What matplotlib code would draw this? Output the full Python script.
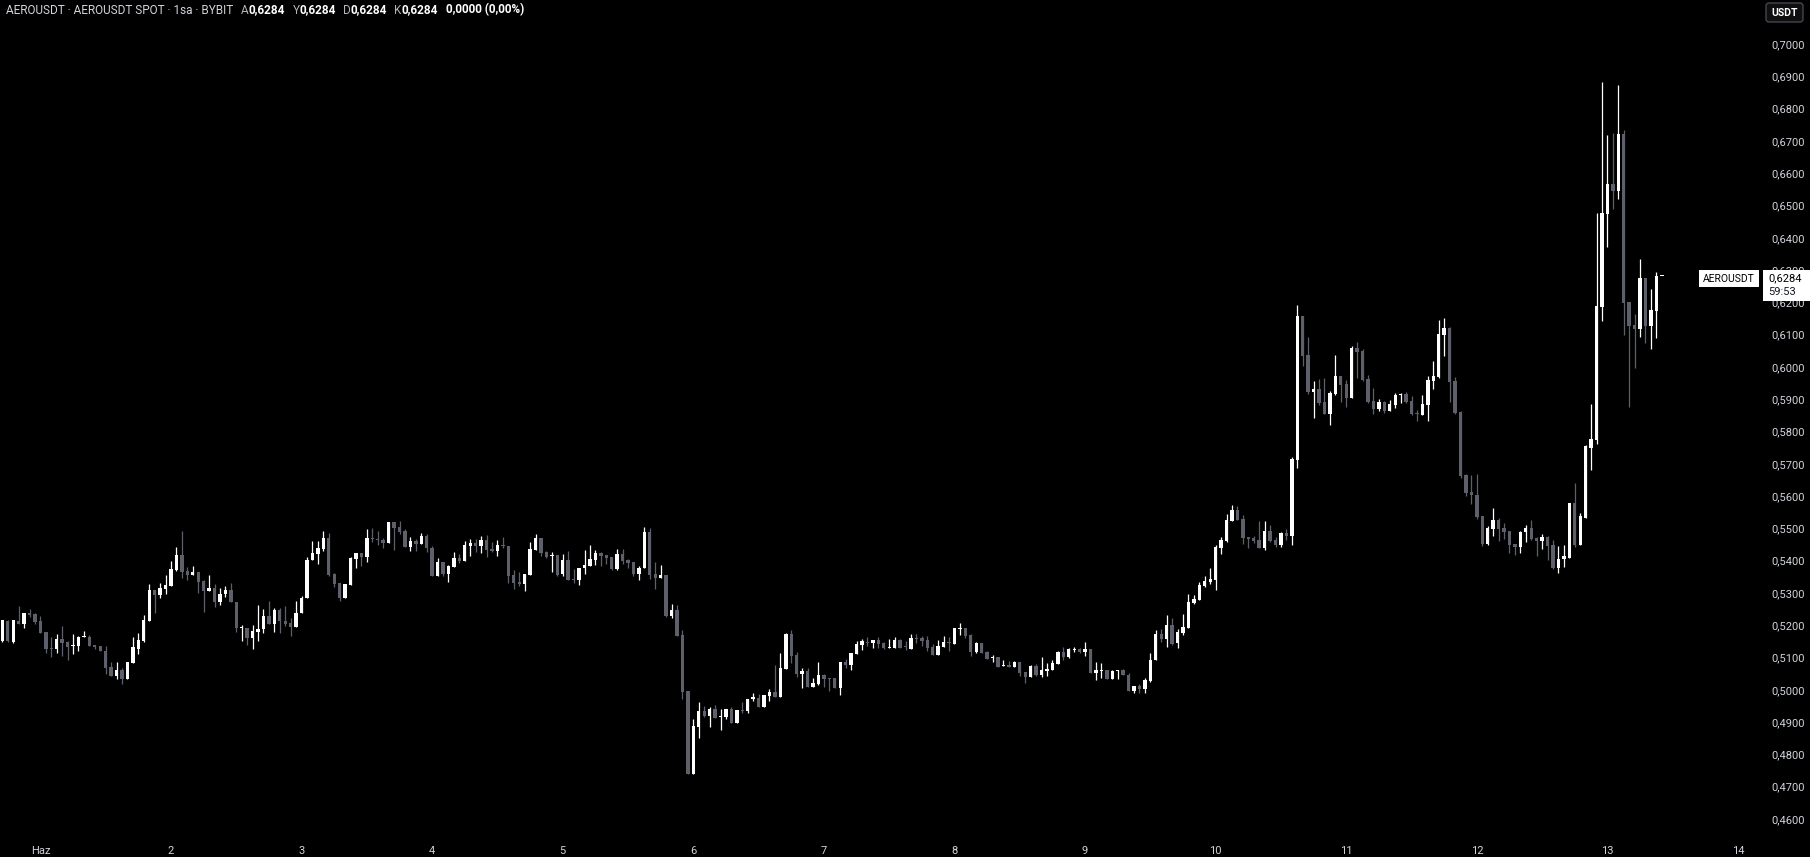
import numpy as np
import pandas as pd
import matplotlib
matplotlib.use("Agg")
import matplotlib.pyplot as plt
from matplotlib import transforms
from matplotlib.patches import Rectangle, FancyBboxPatch

plt.rcParams["font.family"] = ["Roboto", "DejaVu Sans"]

# ---- data: AEROUSDT 1h candles ----
start = pd.Timestamp("2024-05-31 17:00")
opens = [
    0.5153, 0.5217, 0.5151, 0.5217, 0.5208, 0.5241, 0.5239, 0.5217, 0.5182, 0.5134,
    0.5131, 0.5161, 0.5152, 0.5140, 0.5140, 0.5166, 0.5168, 0.5142, 0.5139, 0.5124,
    0.5074, 0.5047, 0.5065, 0.5037, 0.5085, 0.5131, 0.5153, 0.5217, 0.5313, 0.5298,
    0.5316, 0.5326, 0.5375, 0.5421, 0.5371, 0.5360, 0.5368, 0.5341, 0.5308, 0.5319,
    0.5274, 0.5299, 0.5313, 0.5275, 0.5193, 0.5195, 0.5165, 0.5183, 0.5190, 0.5232,
    0.5206, 0.5251, 0.5217, 0.5211, 0.5199, 0.5241, 0.5286, 0.5404, 0.5425, 0.5440,
    0.5474, 0.5362, 0.5334, 0.5288, 0.5328, 0.5409, 0.5427, 0.5415, 0.5474, 0.5471,
    0.5468, 0.5458, 0.5523, 0.5508, 0.5496, 0.5446, 0.5465, 0.5455, 0.5480, 0.5443,
    0.5356, 0.5399, 0.5362, 0.5384, 0.5412, 0.5402, 0.5449, 0.5458, 0.5449, 0.5468,
    0.5440, 0.5433, 0.5452, 0.5449, 0.5359, 0.5337, 0.5331, 0.5359, 0.5437, 0.5474,
    0.5430, 0.5418, 0.5421, 0.5362, 0.5406, 0.5347, 0.5344, 0.5381, 0.5387, 0.5406,
    0.5427, 0.5421, 0.5415, 0.5378, 0.5424, 0.5406, 0.5400, 0.5362, 0.5381, 0.5492,
    0.5362, 0.5350, 0.5359, 0.5232, 0.5251, 0.5173, 0.5000, 0.4743, 0.4889, 0.4936,
    0.4923, 0.4944, 0.4920, 0.4920, 0.4944, 0.4901, 0.4941, 0.4938, 0.4975, 0.4978,
    0.4951, 0.4985, 0.4997, 0.4982, 0.5068, 0.5176, 0.5111, 0.5053, 0.5062, 0.5012,
    0.5022, 0.5049, 0.5040, 0.5040, 0.5009, 0.5090, 0.5080, 0.5115, 0.5142, 0.5152,
    0.5149, 0.5158, 0.5149, 0.5133, 0.5133, 0.5158, 0.5139, 0.5130, 0.5164, 0.5164,
    0.5158, 0.5136, 0.5112, 0.5136, 0.5152, 0.5145, 0.5192, 0.5195, 0.5173, 0.5121,
    0.5149, 0.5121, 0.5102, 0.5105, 0.5077, 0.5080, 0.5074, 0.5090, 0.5059, 0.5043,
    0.5077, 0.5049, 0.5062, 0.5065, 0.5083, 0.5121, 0.5105, 0.5127, 0.5130, 0.5121,
    0.5130, 0.5056, 0.5062, 0.5065, 0.5037, 0.5061, 0.5064, 0.5048, 0.4998, 0.5015,
    0.5007, 0.5030, 0.5095, 0.5176, 0.5161, 0.5204, 0.5149, 0.5180, 0.5195, 0.5272,
    0.5282, 0.5325, 0.5337, 0.5344, 0.5443, 0.5465, 0.5527, 0.5561, 0.5533, 0.5477,
    0.5474, 0.5468, 0.5443, 0.5495, 0.5468, 0.5452, 0.5489, 0.5480, 0.5715, 0.6161,
    0.6040, 0.5926, 0.5935, 0.5895, 0.5858, 0.5920, 0.5975, 0.5950, 0.5907, 0.6062,
    0.6053, 0.5966, 0.5898, 0.5873, 0.5895, 0.5867, 0.5886, 0.5917, 0.5920, 0.5898,
    0.5861, 0.5855, 0.5886, 0.5960, 0.5972, 0.6102, 0.6124, 0.5960, 0.5864, 0.5669,
    0.5616, 0.5607, 0.5542, 0.5455, 0.5501, 0.5529, 0.5503, 0.5495, 0.5455, 0.5444,
    0.5492, 0.5505, 0.5474, 0.5465, 0.5477, 0.5450, 0.5381, 0.5407, 0.5412, 0.5582,
    0.5452, 0.5535, 0.5752, 0.5778, 0.6189, 0.6477, 0.6568, 0.6548, 0.6725, 0.6204,
    0.6133, 0.6120, 0.6279, 0.6130, 0.6176, 0.6284,
]
highs = [
    0.5220, 0.5218, 0.5219, 0.5263, 0.5241, 0.5254, 0.5241, 0.5232, 0.5182, 0.5168,
    0.5175, 0.5201, 0.5155, 0.5176, 0.5171, 0.5186, 0.5173, 0.5142, 0.5139, 0.5139,
    0.5088, 0.5088, 0.5070, 0.5090, 0.5168, 0.5178, 0.5234, 0.5331, 0.5313, 0.5333,
    0.5359, 0.5402, 0.5446, 0.5495, 0.5384, 0.5387, 0.5368, 0.5344, 0.5359, 0.5331,
    0.5319, 0.5325, 0.5333, 0.5275, 0.5204, 0.5195, 0.5204, 0.5267, 0.5254, 0.5279,
    0.5257, 0.5257, 0.5264, 0.5226, 0.5279, 0.5294, 0.5415, 0.5464, 0.5464, 0.5496,
    0.5489, 0.5365, 0.5334, 0.5331, 0.5415, 0.5427, 0.5427, 0.5502, 0.5505, 0.5496,
    0.5474, 0.5523, 0.5523, 0.5526, 0.5502, 0.5477, 0.5471, 0.5489, 0.5486, 0.5449,
    0.5412, 0.5399, 0.5390, 0.5430, 0.5424, 0.5465, 0.5471, 0.5471, 0.5480, 0.5483,
    0.5461, 0.5468, 0.5477, 0.5449, 0.5375, 0.5368, 0.5362, 0.5461, 0.5486, 0.5474,
    0.5433, 0.5430, 0.5421, 0.5424, 0.5433, 0.5378, 0.5381, 0.5437, 0.5452, 0.5437,
    0.5430, 0.5421, 0.5415, 0.5440, 0.5440, 0.5409, 0.5400, 0.5387, 0.5508, 0.5505,
    0.5400, 0.5390, 0.5359, 0.5270, 0.5266, 0.5189, 0.5000, 0.4913, 0.4966, 0.4954,
    0.4951, 0.4957, 0.4944, 0.4944, 0.4951, 0.4941, 0.4966, 0.4975, 0.4994, 0.4991,
    0.4988, 0.5006, 0.5080, 0.5118, 0.5179, 0.5189, 0.5121, 0.5071, 0.5071, 0.5040,
    0.5090, 0.5053, 0.5040, 0.5040, 0.5090, 0.5099, 0.5118, 0.5155, 0.5161, 0.5167,
    0.5158, 0.5167, 0.5152, 0.5161, 0.5167, 0.5161, 0.5155, 0.5176, 0.5176, 0.5170,
    0.5170, 0.5145, 0.5158, 0.5170, 0.5167, 0.5195, 0.5210, 0.5195, 0.5176, 0.5152,
    0.5149, 0.5124, 0.5111, 0.5105, 0.5096, 0.5093, 0.5093, 0.5090, 0.5059, 0.5080,
    0.5083, 0.5105, 0.5087, 0.5096, 0.5124, 0.5136, 0.5133, 0.5136, 0.5133, 0.5152,
    0.5130, 0.5090, 0.5087, 0.5065, 0.5063, 0.5064, 0.5067, 0.5055, 0.5015, 0.5021,
    0.5039, 0.5118, 0.5189, 0.5192, 0.5235, 0.5226, 0.5192, 0.5238, 0.5300, 0.5297,
    0.5337, 0.5356, 0.5381, 0.5452, 0.5477, 0.5548, 0.5576, 0.5573, 0.5545, 0.5477,
    0.5480, 0.5526, 0.5526, 0.5514, 0.5477, 0.5492, 0.5502, 0.5724, 0.6195, 0.6161,
    0.6096, 0.5960, 0.5966, 0.5969, 0.5929, 0.6040, 0.5975, 0.5963, 0.6068, 0.6080,
    0.6059, 0.5978, 0.5938, 0.5904, 0.5898, 0.5901, 0.5923, 0.5923, 0.5926, 0.5913,
    0.5870, 0.5917, 0.5975, 0.6022, 0.6149, 0.6155, 0.6127, 0.5972, 0.5867, 0.5672,
    0.5669, 0.5672, 0.5542, 0.5509, 0.5567, 0.5535, 0.5519, 0.5495, 0.5455, 0.5495,
    0.5512, 0.5530, 0.5477, 0.5487, 0.5480, 0.5466, 0.5447, 0.5450, 0.5582, 0.5642,
    0.5551, 0.5761, 0.5889, 0.6481, 0.6886, 0.6722, 0.6727, 0.6875, 0.6737, 0.6204,
    0.6167, 0.6337, 0.6279, 0.6245, 0.6298, 0.6284,
]
lows = [
    0.5150, 0.5152, 0.5149, 0.5207, 0.5196, 0.5230, 0.5208, 0.5180, 0.5118, 0.5106,
    0.5118, 0.5109, 0.5094, 0.5115, 0.5122, 0.5166, 0.5140, 0.5128, 0.5122, 0.5051,
    0.5047, 0.5035, 0.5020, 0.5035, 0.5085, 0.5115, 0.5150, 0.5215, 0.5242, 0.5286,
    0.5301, 0.5326, 0.5372, 0.5348, 0.5344, 0.5360, 0.5304, 0.5243, 0.5308, 0.5261,
    0.5267, 0.5292, 0.5274, 0.5181, 0.5153, 0.5141, 0.5131, 0.5153, 0.5178, 0.5206,
    0.5181, 0.5178, 0.5201, 0.5171, 0.5199, 0.5241, 0.5286, 0.5404, 0.5393, 0.5434,
    0.5356, 0.5322, 0.5279, 0.5288, 0.5328, 0.5381, 0.5387, 0.5399, 0.5461, 0.5452,
    0.5443, 0.5458, 0.5437, 0.5486, 0.5446, 0.5434, 0.5434, 0.5455, 0.5430, 0.5356,
    0.5356, 0.5356, 0.5338, 0.5384, 0.5396, 0.5402, 0.5418, 0.5430, 0.5427, 0.5415,
    0.5430, 0.5418, 0.5443, 0.5334, 0.5316, 0.5325, 0.5310, 0.5359, 0.5437, 0.5418,
    0.5412, 0.5368, 0.5356, 0.5354, 0.5344, 0.5334, 0.5328, 0.5362, 0.5387, 0.5390,
    0.5387, 0.5393, 0.5375, 0.5375, 0.5393, 0.5381, 0.5356, 0.5344, 0.5381, 0.5347,
    0.5316, 0.5350, 0.5229, 0.5226, 0.5170, 0.4975, 0.4743, 0.4743, 0.4855, 0.4920,
    0.4889, 0.4917, 0.4880, 0.4913, 0.4901, 0.4901, 0.4932, 0.4930, 0.4969, 0.4951,
    0.4951, 0.4969, 0.4982, 0.4982, 0.5068, 0.5087, 0.5043, 0.5009, 0.5012, 0.5012,
    0.5019, 0.5012, 0.4999, 0.5009, 0.4988, 0.5071, 0.5065, 0.5115, 0.5127, 0.5139,
    0.5133, 0.5133, 0.5130, 0.5133, 0.5133, 0.5133, 0.5127, 0.5130, 0.5149, 0.5139,
    0.5124, 0.5112, 0.5112, 0.5136, 0.5124, 0.5145, 0.5173, 0.5164, 0.5108, 0.5118,
    0.5118, 0.5099, 0.5090, 0.5074, 0.5077, 0.5074, 0.5074, 0.5046, 0.5025, 0.5043,
    0.5046, 0.5043, 0.5046, 0.5065, 0.5083, 0.5096, 0.5102, 0.5121, 0.5118, 0.5108,
    0.5056, 0.5034, 0.5040, 0.5037, 0.5037, 0.5038, 0.5048, 0.4998, 0.4993, 0.4993,
    0.4993, 0.5027, 0.5095, 0.5152, 0.5136, 0.5142, 0.5133, 0.5173, 0.5195, 0.5269,
    0.5282, 0.5322, 0.5331, 0.5313, 0.5424, 0.5461, 0.5527, 0.5530, 0.5455, 0.5443,
    0.5458, 0.5443, 0.5437, 0.5461, 0.5446, 0.5446, 0.5468, 0.5452, 0.5690, 0.6006,
    0.5919, 0.5845, 0.5885, 0.5858, 0.5824, 0.5917, 0.5895, 0.5879, 0.5907, 0.5969,
    0.5960, 0.5892, 0.5858, 0.5867, 0.5861, 0.5867, 0.5876, 0.5892, 0.5892, 0.5855,
    0.5836, 0.5855, 0.5836, 0.5935, 0.5969, 0.6037, 0.5895, 0.5858, 0.5659, 0.5604,
    0.5579, 0.5532, 0.5449, 0.5450, 0.5478, 0.5463, 0.5471, 0.5426, 0.5422, 0.5426,
    0.5461, 0.5466, 0.5418, 0.5439, 0.5405, 0.5378, 0.5365, 0.5384, 0.5412, 0.5444,
    0.5452, 0.5535, 0.5685, 0.5765, 0.6145, 0.6375, 0.6493, 0.6523, 0.6103, 0.5880,
    0.6001, 0.6097, 0.6077, 0.6060, 0.6094, 0.6284,
]
closes = [
    0.5218, 0.5153, 0.5218, 0.5208, 0.5241, 0.5235, 0.5213, 0.5180, 0.5131, 0.5131,
    0.5161, 0.5149, 0.5137, 0.5143, 0.5168, 0.5168, 0.5140, 0.5136, 0.5122, 0.5072,
    0.5047, 0.5065, 0.5037, 0.5088, 0.5136, 0.5156, 0.5220, 0.5313, 0.5298, 0.5319,
    0.5328, 0.5378, 0.5421, 0.5369, 0.5359, 0.5368, 0.5338, 0.5308, 0.5318, 0.5274,
    0.5299, 0.5313, 0.5274, 0.5193, 0.5196, 0.5165, 0.5186, 0.5192, 0.5232, 0.5206,
    0.5251, 0.5215, 0.5208, 0.5199, 0.5242, 0.5288, 0.5406, 0.5427, 0.5443, 0.5474,
    0.5358, 0.5331, 0.5288, 0.5331, 0.5412, 0.5427, 0.5415, 0.5474, 0.5471, 0.5468,
    0.5458, 0.5523, 0.5505, 0.5492, 0.5446, 0.5465, 0.5455, 0.5480, 0.5443, 0.5356,
    0.5399, 0.5362, 0.5387, 0.5412, 0.5402, 0.5452, 0.5458, 0.5449, 0.5468, 0.5437,
    0.5433, 0.5452, 0.5449, 0.5356, 0.5334, 0.5331, 0.5362, 0.5440, 0.5474, 0.5427,
    0.5415, 0.5421, 0.5359, 0.5406, 0.5344, 0.5344, 0.5381, 0.5390, 0.5409, 0.5427,
    0.5418, 0.5412, 0.5378, 0.5424, 0.5403, 0.5396, 0.5362, 0.5381, 0.5492, 0.5359,
    0.5350, 0.5359, 0.5232, 0.5251, 0.5170, 0.4997, 0.4743, 0.4892, 0.4936, 0.4923,
    0.4944, 0.4917, 0.4923, 0.4944, 0.4901, 0.4941, 0.4938, 0.4975, 0.4981, 0.4951,
    0.4988, 0.4997, 0.4982, 0.5071, 0.5176, 0.5108, 0.5053, 0.5062, 0.5012, 0.5025,
    0.5049, 0.5037, 0.5037, 0.5009, 0.5090, 0.5080, 0.5118, 0.5145, 0.5155, 0.5149,
    0.5158, 0.5145, 0.5133, 0.5136, 0.5158, 0.5133, 0.5136, 0.5164, 0.5161, 0.5155,
    0.5133, 0.5112, 0.5139, 0.5152, 0.5149, 0.5195, 0.5195, 0.5170, 0.5121, 0.5149,
    0.5118, 0.5099, 0.5105, 0.5074, 0.5080, 0.5074, 0.5090, 0.5056, 0.5043, 0.5077,
    0.5049, 0.5065, 0.5068, 0.5087, 0.5121, 0.5105, 0.5130, 0.5130, 0.5121, 0.5130,
    0.5056, 0.5065, 0.5065, 0.5037, 0.5062, 0.5064, 0.5048, 0.4998, 0.5015, 0.5007,
    0.5033, 0.5095, 0.5176, 0.5161, 0.5204, 0.5146, 0.5183, 0.5198, 0.5275, 0.5285,
    0.5328, 0.5340, 0.5347, 0.5446, 0.5468, 0.5530, 0.5561, 0.5530, 0.5474, 0.5471,
    0.5465, 0.5443, 0.5495, 0.5465, 0.5452, 0.5489, 0.5480, 0.5718, 0.6161, 0.6037,
    0.5926, 0.5935, 0.5892, 0.5858, 0.5923, 0.5975, 0.5947, 0.5907, 0.6062, 0.6050,
    0.5963, 0.5895, 0.5873, 0.5895, 0.5867, 0.5889, 0.5917, 0.5920, 0.5895, 0.5858,
    0.5858, 0.5889, 0.5963, 0.5975, 0.6105, 0.6124, 0.5957, 0.5861, 0.5666, 0.5613,
    0.5607, 0.5539, 0.5455, 0.5505, 0.5529, 0.5501, 0.5493, 0.5452, 0.5444, 0.5492,
    0.5505, 0.5471, 0.5465, 0.5477, 0.5447, 0.5381, 0.5409, 0.5416, 0.5582, 0.5452,
    0.5540, 0.5757, 0.5780, 0.6193, 0.6481, 0.6568, 0.6548, 0.6725, 0.6201, 0.6130,
    0.6120, 0.6279, 0.6130, 0.6179, 0.6284, 0.6284,
]
day_labels = ["Haz"] + [str(d) for d in range(2, 15)]
price_ticks = np.round(np.arange(0.46, 0.7001, 0.01), 2)
last_price = 0.6284
countdown = "59:53"
symbol = "AEROUSDT"
header = "AEROUSDT · AEROUSDT SPOT · 1sa · BYBIT"

UP, DOWN = "#ffffff", "#5d606b"
TXT = "#d1d4dc"
DIM = "#b2b5be"

W, H = 1810, 857
fig = plt.figure(figsize=(W / 100, H / 100), dpi=100, facecolor="black")
ax = fig.add_axes([0, 0, 1, 1])
ax.set_facecolor("black")
ax.set_axis_off()

# pane geometry in screen pixels
X0, HOUR_PX = 40.4, 5.441      # June 1 00:00 and one hour
Y0, PRICE_PX = 45.0, 3229.0    # 0.70 line and px per 1.0 of price


def price_at(y):
    return 0.70 - (y - Y0) / PRICE_PX


ax.set_xlim(-X0 / HOUR_PX, (W - X0) / HOUR_PX)
ax.set_ylim(price_at(H), price_at(0))

# pixel transform (x right, y down from the top-left corner)
pix = transforms.Affine2D().scale(1 / W, -1 / H).translate(0, 1) + fig.transFigure

o, hi, lo, c = map(np.array, (opens, highs, lows, closes))
times = pd.date_range(start, periods=len(o), freq="h")
x = ((times - pd.Timestamp("2024-06-01")) / pd.Timedelta(hours=1)).values
col = np.where(c >= o, UP, DOWN)

ax.vlines(x, np.minimum(lo, np.minimum(o, c)), np.maximum(hi, np.maximum(o, c)),
          colors=col, linewidth=0.9, zorder=2)
body_h = np.maximum(np.abs(c - o), 1.0 / PRICE_PX)
ax.bar(x, body_h, bottom=np.minimum(o, c), width=0.62, color=col,
       linewidth=0, zorder=3)

# time axis
for i, lab in enumerate(day_labels):
    ax.text(24 * i, price_at(851), lab, color=TXT, fontsize=8,
            ha="center", va="center")

# price axis
ytrans = transforms.blended_transform_factory(ax.transAxes, ax.transData)
for v in price_ticks:
    ax.text(1805 / W, v, f"{v:.4f}".replace(".", ","), color=TXT,
            fontsize=8, ha="right", va="center", transform=ytrans, zorder=4)

# last price label
yp = Y0 + (0.70 - last_price) * PRICE_PX
fig.add_artist(Rectangle((1763, yp - 6), 47, 31, transform=pix,
                         facecolor="white", edgecolor="none", zorder=10))
fig.text(1768, yp + 2, f"{last_price:.4f}".replace(".", ","), transform=pix,
         color="black", fontsize=8, ha="left", va="center", zorder=11)
fig.text(1768, yp + 16, countdown, transform=pix,
         color="#131722", fontsize=8, ha="left", va="center", zorder=11)
fig.add_artist(Rectangle((1699, yp - 6), 60, 17, transform=pix,
                         facecolor="white", edgecolor="none", zorder=10))
fig.text(1729, yp + 2.5, symbol, transform=pix, color="black", fontsize=7.5,
         ha="center", va="center", zorder=11)

# currency button
fig.add_artist(FancyBboxPatch((1766, 3), 37, 19, transform=pix,
                              boxstyle="round,pad=0,rounding_size=3",
                              facecolor="#0f0f0f", edgecolor="#434651",
                              linewidth=1, zorder=10))
fig.text(1784.5, 12.5, "USDT", transform=pix, color="white", fontsize=7.5,
         fontweight="bold", ha="center", va="center", zorder=11)

# legend line at the top
fig.canvas.draw()
renderer = fig.canvas.get_renderer()
pieces = [(header, TXT, "normal", 0), ("A", DIM, "normal", 8),
          ("0,6284", "white", "bold", 0), ("Y", DIM, "normal", 7),
          ("0,6284", "white", "bold", 0), ("D", DIM, "normal", 7),
          ("0,6284", "white", "bold", 0), ("K", DIM, "normal", 7),
          ("0,6284", "white", "bold", 0), ("0,0000 (0,00%)", "white", "bold", 8)]
cx = 6
for text, color, weight, gap in pieces:
    cx += gap
    t = fig.text(cx, 10, text, transform=pix, color=color, fontsize=8.5,
                 fontweight=weight, ha="left", va="center", zorder=11)
    cx += t.get_window_extent(renderer).width

fig.savefig("out.png", dpi=100, facecolor="black")
